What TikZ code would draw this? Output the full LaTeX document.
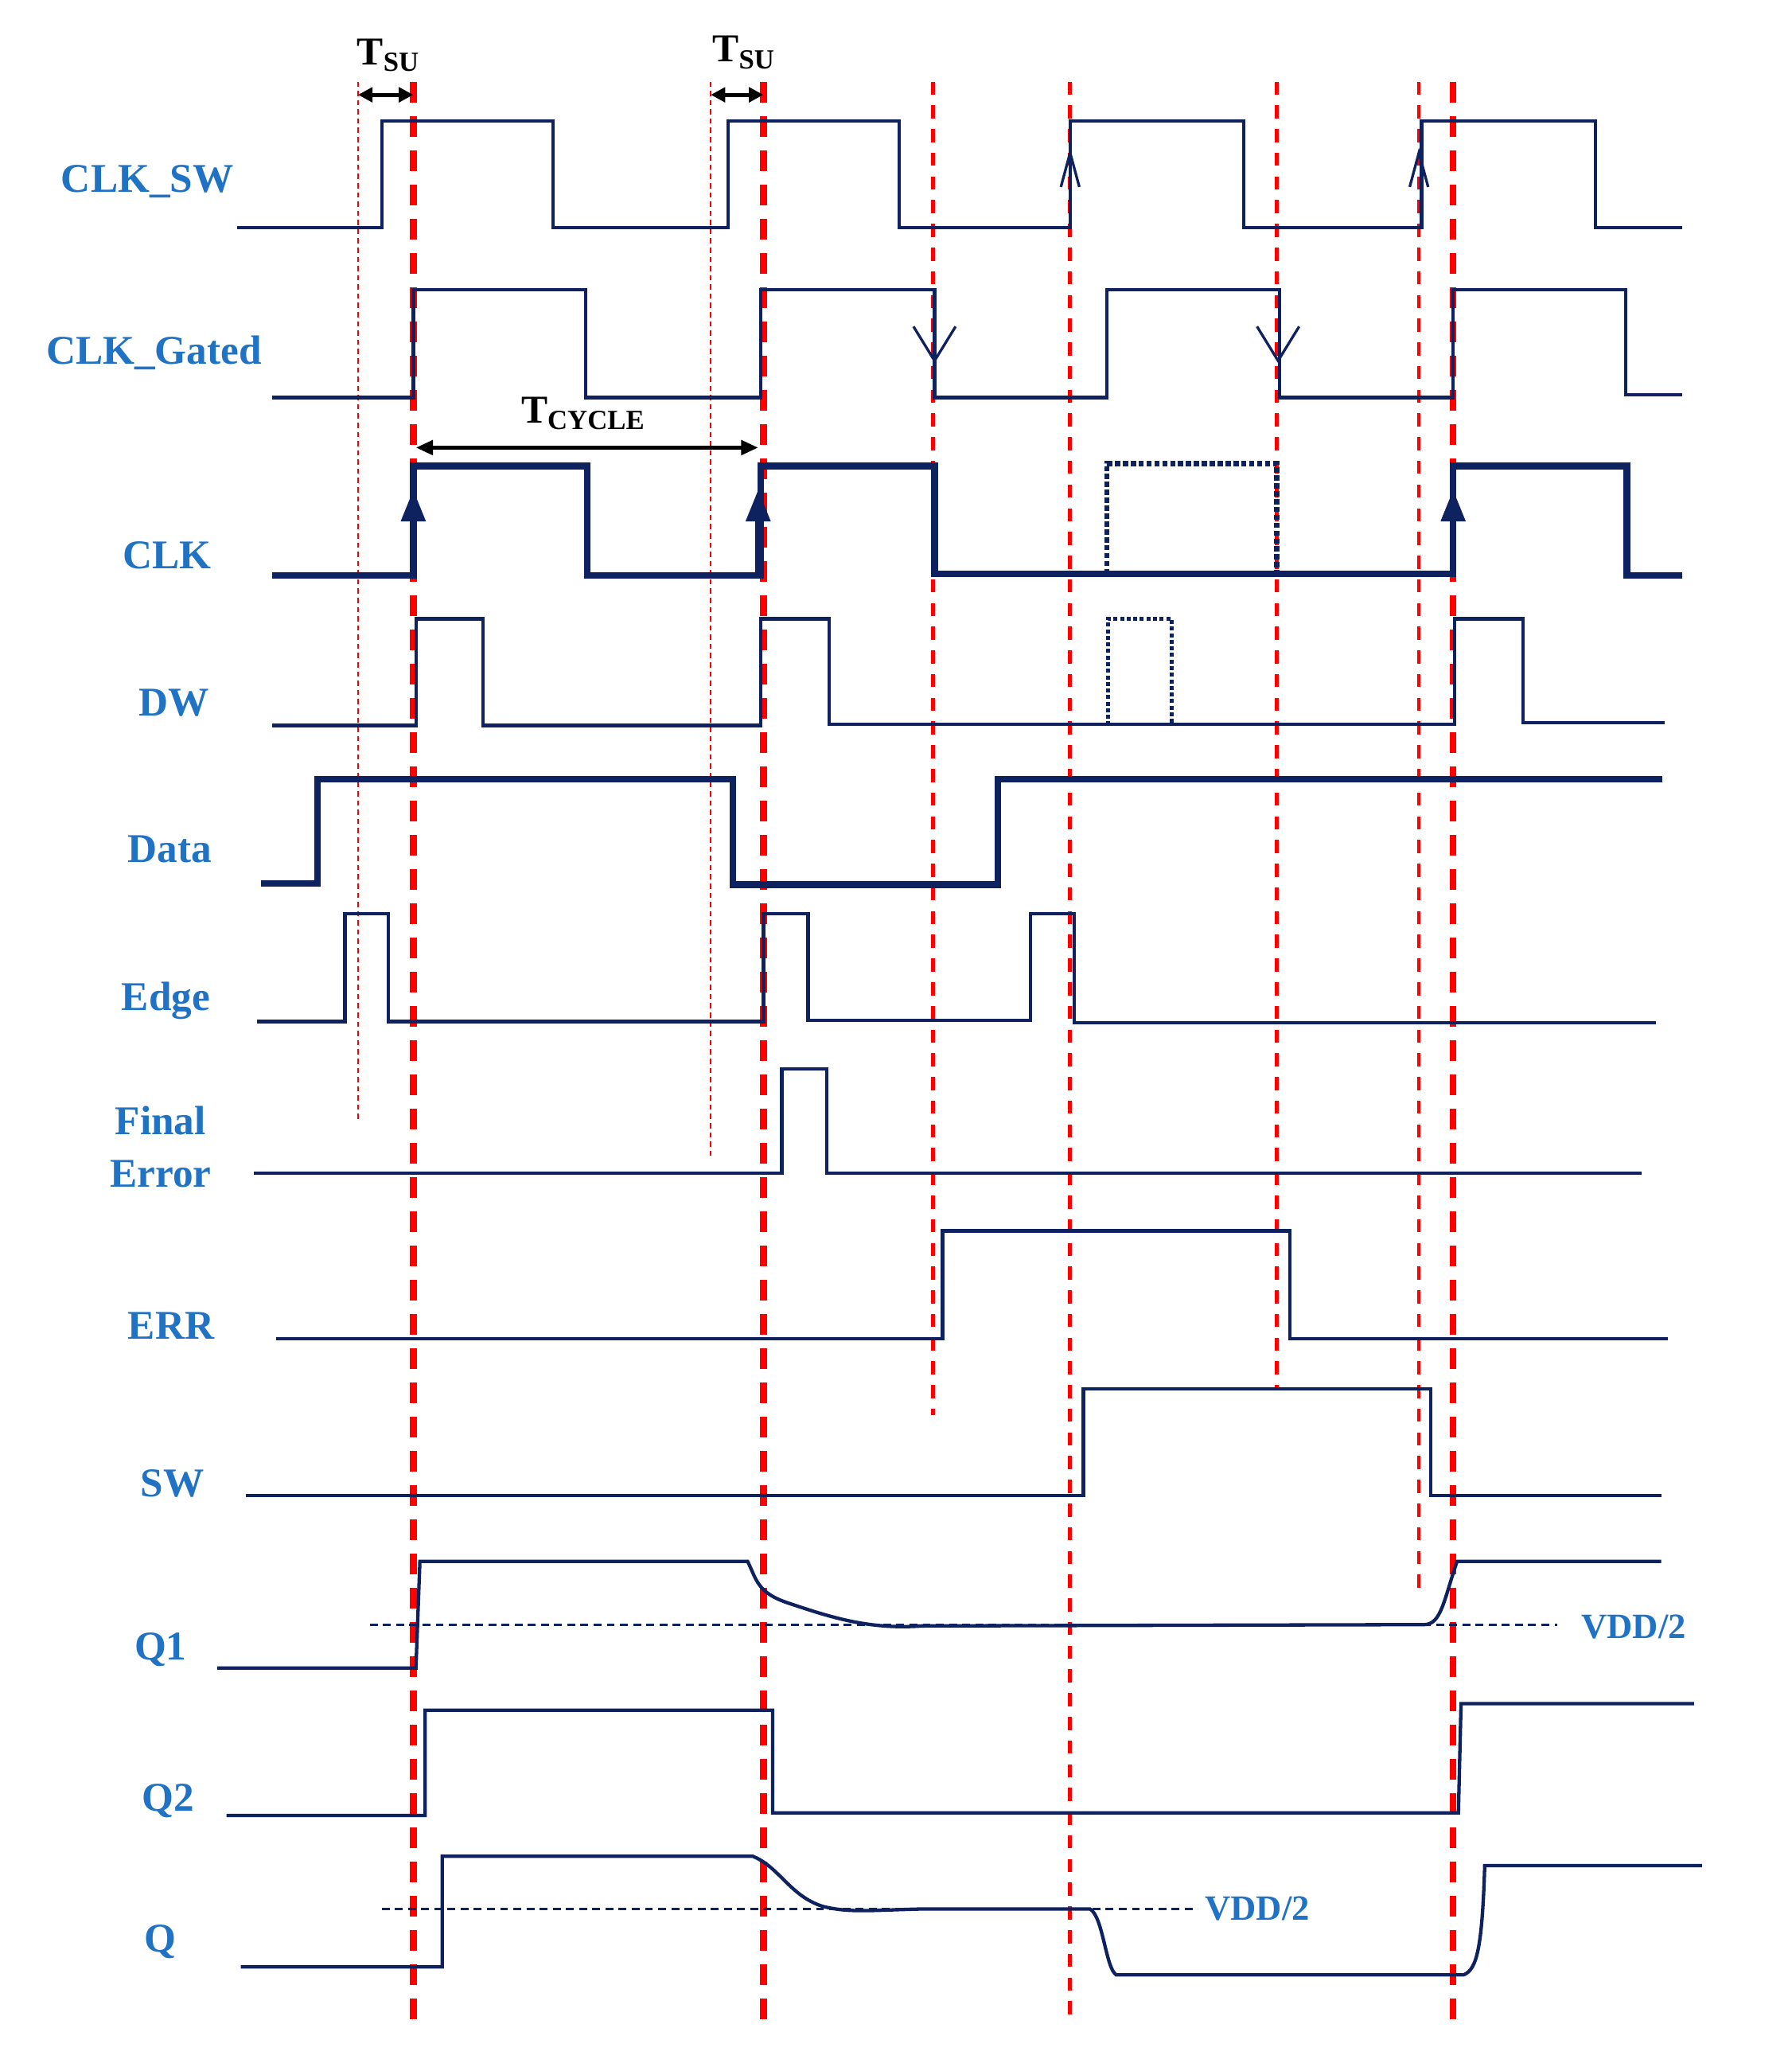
\documentclass[tikz,border=0pt]{standalone}
\usepackage{fontspec}
\setmainfont{Liberation Serif}
\usetikzlibrary{arrows.meta}
\definecolor{sig}{HTML}{0E2260}
\definecolor{lab}{HTML}{1F72C4}
\begin{document}
\begin{tikzpicture}[x=1pt,y=-1pt,
  s/.style={sig,line width=2.6pt,line join=miter},
  sk/.style={sig,line width=5pt},
  sd/.style={sig,line width=4pt,dotted},
  lb/.style={lab,font=\fontsize{31}{36}\selectfont\bfseries,align=center},
  rthick/.style={red,line width=5pt,dash pattern=on 16pt off 10pt},
  rmid/.style={red,line width=2.8pt,dash pattern=on 10pt off 8pt},
  rthin/.style={red,line width=1.2pt,dash pattern=on 4pt off 3pt},
  vd/.style={sig,line width=2pt,dash pattern=on 6pt off 4pt}]
\useasboundingbox (0,0) rectangle (1361,1567);
% red lines
\foreach \x in {314,580,1104} \draw[rthick] (\x,62) -- (\x,1540);
\draw[rmid] (709,62) -- (709,1075);
\draw[rmid] (813,62) -- (813,1535);
\draw[rmid] (970,62) -- (970,1055);
\draw[rmid] (1078,62) -- (1078,1210);
\draw[rthin] (272,62) -- (272,850);
\draw[rthin] (540,62) -- (540,880);
% labels
\node[lb] (l1) at (112,138) {CLK\_SW};
\node[lb] (l2) at (117,268) {CLK\_Gated};
\node[lb] (l3) at (127,422) {CLK};
\node[lb] (l4) at (132,534) {DW};
\node[lb] (l5) at (129,645) {Data};
\node[lb] (l6) at (126,760) {Edge};
\node[lb,font=\fontsize{31}{40}\selectfont\bfseries] (l7) at (122,871) {Final\\Error};
\node[lb] (l8) at (130,1007) {ERR};
\node[lb] (l9) at (131,1127) {SW};
\node[lb] (l10) at (122,1253) {Q1};
\node[lb] (l11) at (128,1368) {Q2};
\node[lb] (l12) at (122,1475) {Q};
% CLK_SW
\draw[s] (180,173) -| (290,92) -| (420,173) -| (553,92) -| (683,173) -| (813,92) -| (945,173) -| (1080,92) -| (1212,173) -- (1278,173);
\draw[sig,line width=2pt] (806,142) -- (813,116) -- (820,142);
\draw[sig,line width=2pt] (1071,142) -- (1078,116) -- (1085,142);
% CLK_Gated
\draw[s] (207,302) -| (314,220) -| (445,302) -| (578,220) -| (710,302) -| (841,220) -| (972,302) -| (1104,220) -| (1235,300) -- (1278,300);
\draw[sig,line width=2pt] (694,248) -- (710,274) -- (726,248);
\draw[sig,line width=2pt] (955,248) -- (971,274) -- (987,248);
% CLK
\draw[sk] (207,437) -| (314,354) -| (446,437) -| (578,354) -| (710,436) -- (1104,436) |- (1236,354) |- (1278,437);
\draw[sd] (841,436) |- (970,352) -- (970,436);
\foreach \x in {314,576,1104} \draw[sig,line width=4pt,-{Triangle[length=24pt,width=18pt]}] (\x,437) -- (\x,372);
% DW
\draw[s] (207,551) -| (316,470) -| (367,551) -| (578,470) -| (630,550) -- (1105,550) |- (1157,470) |- (1265,549);
\draw[sig,line width=3pt,dotted] (842,551) |- (890,470) -- (890,551);
% Data
\draw[sk] (198,671) -| (241,592) -| (557,672) -| (758,592) -- (1263,592);
% Edge
\draw[s] (195,776) -| (262,694) -| (295,776) -| (580,694) -| (614,775) -| (783,694) -| (816,777) -- (1258,777);
% Final Error
\draw[s] (193,891) -| (594,812) -| (628,891) -- (1247,891);
% ERR
\draw[s] (210,1017) -| (716,935) -| (980,1017) -- (1267,1017);
% SW
\draw[s] (187,1136) -| (823,1055) -| (1087,1136) -- (1262,1136);
% Q1
\draw[vd] (281,1234) -- (1183,1234);
\node[lb,font=\fontsize{27}{30}\selectfont\bfseries,anchor=west] (v1) at (1198,1236) {VDD/2};
\draw[s] (165,1267) -- (316,1267) -- (319,1186) -- (568,1186) .. controls (575,1200) and (575,1210) .. (600,1218) .. controls (630,1228) and (660,1238) .. (700,1235) -- (1082,1234) .. controls (1095,1234) and (1097,1215) .. (1107,1186) -- (1262,1186);
% Q2
\draw[s] (172,1379) -| (323,1299) -| (587,1377) -- (1108,1377) -- (1110,1294) -- (1287,1294);
% Q
\draw[vd] (290,1450) -- (910,1450);
\node[lb,font=\fontsize{27}{30}\selectfont\bfseries,anchor=west] (v2) at (912,1450) {VDD/2};
\draw[s] (183,1494) -| (336,1410) -- (572,1410) .. controls (592,1418) and (600,1440) .. (625,1448) .. controls (645,1453) and (660,1451) .. (700,1450) -- (828,1450) .. controls (838,1455) and (840,1495) .. (848,1500) -- (1112,1500) .. controls (1122,1496) and (1126,1480) .. (1128,1417) -- (1293,1417);
% T_SU and T_CYCLE
\draw[black,line width=3pt,{Triangle[length=11pt,width=11pt]}-{Triangle[length=11pt,width=11pt]}] (272,72) -- (314,72);
\draw[black,line width=3pt,{Triangle[length=11pt,width=11pt]}-{Triangle[length=11pt,width=11pt]}] (540,72) -- (580,72);
\node[font=\fontsize{30}{34}\selectfont\bfseries] (t1) at (295,42) {T\textsubscript{SU}};
\node[font=\fontsize{30}{34}\selectfont\bfseries] (t2) at (565,40) {T\textsubscript{SU}};
\draw[black,line width=3pt,{Triangle[length=13pt,width=11pt]}-{Triangle[length=13pt,width=11pt]}] (316,340) -- (576,340);
\node[font=\fontsize{30}{34}\selectfont\bfseries] (t3) at (443,314) {T\textsubscript{CYCLE}};
\end{tikzpicture}
\end{document}
